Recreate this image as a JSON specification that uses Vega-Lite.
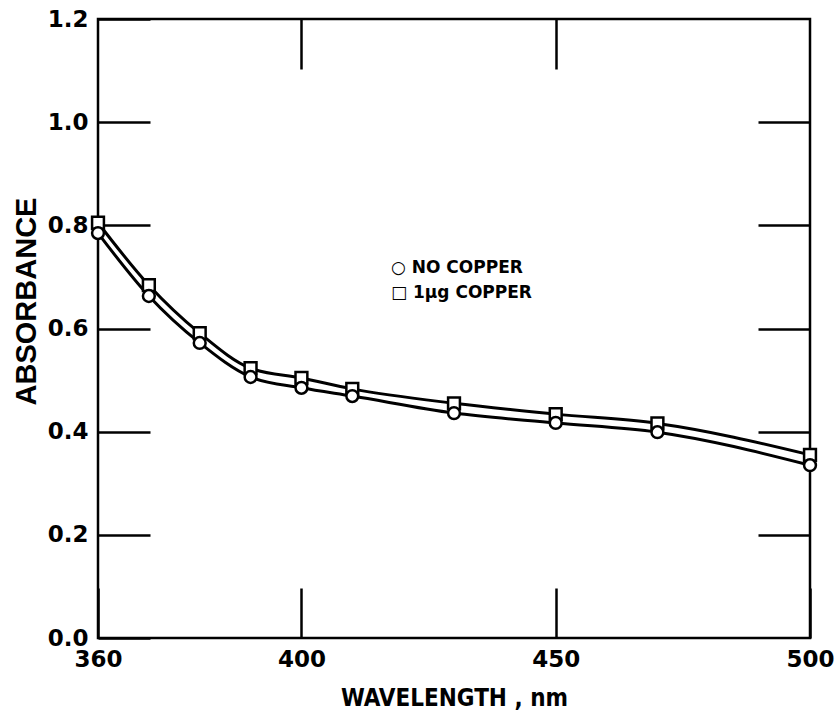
{
  "$schema": "https://vega.github.io/schema/vega-lite/v6.json",
  "autosize": "none",
  "width": 712,
  "height": 619,
  "padding": {"left": 98, "top": 19, "right": 26, "bottom": 81},
  "background": "white",
  "config": {
    "view": {"stroke": "black", "strokeWidth": 2.5},
    "axis": {
      "domain": false,
      "grid": false,
      "tickColor": "black",
      "tickWidth": 2.5,
      "labelColor": "black",
      "labelFont": "DejaVu Sans",
      "labelFontWeight": "bold",
      "labelFontSize": 23,
      "labelFlush": false,
      "labelOverlap": false,
      "titleColor": "black"
    },
    "legend": {
      "labelFont": "DejaVu Sans",
      "labelFontWeight": "bold",
      "labelFontSize": 17,
      "labelColor": "black"
    }
  },
  "data": {
    "values": [
      {"wavelength": 360, "absorbance": 0.805, "series": "1μg COPPER"},
      {"wavelength": 370, "absorbance": 0.684, "series": "1μg COPPER"},
      {"wavelength": 380, "absorbance": 0.591, "series": "1μg COPPER"},
      {"wavelength": 390, "absorbance": 0.523, "series": "1μg COPPER"},
      {"wavelength": 400, "absorbance": 0.504, "series": "1μg COPPER"},
      {"wavelength": 410, "absorbance": 0.483, "series": "1μg COPPER"},
      {"wavelength": 430, "absorbance": 0.455, "series": "1μg COPPER"},
      {"wavelength": 450, "absorbance": 0.434, "series": "1μg COPPER"},
      {"wavelength": 470, "absorbance": 0.416, "series": "1μg COPPER"},
      {"wavelength": 500, "absorbance": 0.355, "series": "1μg COPPER"},
      {"wavelength": 360, "absorbance": 0.785, "series": "NO COPPER"},
      {"wavelength": 370, "absorbance": 0.663, "series": "NO COPPER"},
      {"wavelength": 380, "absorbance": 0.572, "series": "NO COPPER"},
      {"wavelength": 390, "absorbance": 0.506, "series": "NO COPPER"},
      {"wavelength": 400, "absorbance": 0.485, "series": "NO COPPER"},
      {"wavelength": 410, "absorbance": 0.469, "series": "NO COPPER"},
      {"wavelength": 430, "absorbance": 0.436, "series": "NO COPPER"},
      {"wavelength": 450, "absorbance": 0.417, "series": "NO COPPER"},
      {"wavelength": 470, "absorbance": 0.399, "series": "NO COPPER"},
      {"wavelength": 500, "absorbance": 0.335, "series": "NO COPPER"}
    ]
  },
  "resolve": {"axis": {"x": "independent", "y": "independent"}},
  "layer": [
    {
      "mark": {"type": "line", "color": "black", "strokeWidth": 3, "interpolate": "monotone"},
      "encoding": {
        "x": {
          "field": "wavelength", "type": "quantitative",
          "scale": {"domain": [360, 500], "nice": false, "zero": false},
          "axis": {
            "orient": "bottom",
            "values": [360, 400, 450, 500],
            "tickSize": -50,
            "labelPadding": 60,
            "title": "WAVELENGTH , nm",
            "titleFont": "DejaVu Sans Condensed, Liberation Sans",
            "titleFontWeight": "bold",
            "titleFontSize": 24,
            "titleBaseline": "middle",
            "titleX": 356,
            "titleY": 60
          }
        },
        "y": {
          "field": "absorbance", "type": "quantitative",
          "scale": {"domain": [0, 1.2], "nice": false, "zero": false},
          "axis": {
            "orient": "left",
            "values": [0, 0.2, 0.4, 0.6, 0.8, 1.0, 1.2],
            "format": ".1f",
            "tickSize": -52,
            "labelPadding": 62,
            "title": "ABSORBANCE",
            "titleFont": "Liberation Sans",
            "titleFontWeight": "bold",
            "titleFontSize": 29,
            "titleAngle": -90,
            "titleBaseline": "middle",
            "titleAlign": "center",
            "titleX": -72,
            "titleY": 282
          }
        },
        "detail": {"field": "series"}
      }
    },
    {
      "mark": {"type": "point", "filled": false, "fill": "white", "fillOpacity": 1, "stroke": "black", "strokeWidth": 2.5, "size": 140},
      "encoding": {
        "x": {
          "field": "wavelength", "type": "quantitative",
          "axis": {"orient": "top", "values": [400, 450], "tickSize": -50, "labels": false, "title": null}
        },
        "y": {
          "field": "absorbance", "type": "quantitative",
          "axis": {"orient": "right", "values": [0.2, 0.4, 0.6, 0.8, 1.0], "tickSize": -52, "labels": false, "title": null}
        },
        "shape": {
          "field": "series", "type": "nominal",
          "scale": {"domain": ["NO COPPER", "1μg COPPER"], "range": ["circle", "square"]},
          "legend": {
            "orient": "none",
            "legendX": 276,
            "legendY": 240,
            "title": null,
            "rowPadding": 7,
            "labelOffset": 0,
            "symbolSize": 0,
            "symbolOpacity": 0,
            "labelExpr": "datum.label == 'NO COPPER' ? '○  NO COPPER' : '□  1μg COPPER'"
          }
        }
      }
    }
  ]
}
